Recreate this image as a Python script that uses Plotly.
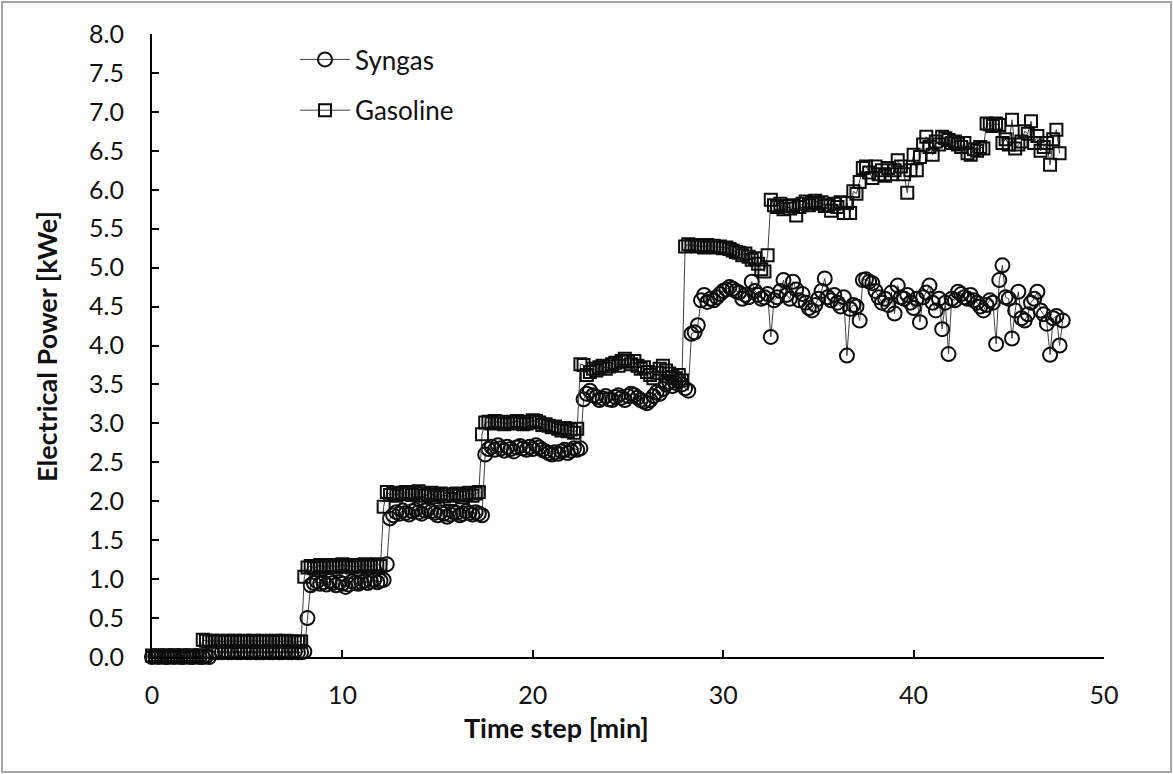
import plotly.graph_objects as go

# ---------------- data ----------------
# Samples every 10 s (1/6 min), starting at t = 0 min.
TIME_START_MIN = 0.0
TIME_STEP_MIN = 1.0 / 6.0

# Syngas electrical power [kWe], grouped by load step
syngas_idle = [0.0, 0.01, 0.0, 0.01, 0.0, 0.0, 0.01, 0.0, 0.01, 0.0,
               0.0, 0.01, 0.0, 0.0, 0.01, 0.0, 0.0, 0.01, 0.0]
syngas_step0 = [0.06, 0.07, 0.06, 0.06, 0.07, 0.06, 0.06, 0.07, 0.06, 0.06,
                0.07, 0.06, 0.06, 0.07, 0.06, 0.06, 0.06, 0.07, 0.06, 0.06,
                0.07, 0.06, 0.06, 0.07, 0.06, 0.06, 0.07, 0.06, 0.06, 0.07]
syngas_step1 = [0.5, 0.92, 0.95, 0.97, 0.94, 0.96, 0.93, 0.98, 0.95, 0.92,
                0.96, 0.94, 0.9, 0.93, 0.97, 0.95, 0.94, 0.96, 0.98, 0.95,
                0.97, 0.99, 0.96, 0.98, 0.99]
syngas_step2 = [1.19, 1.78, 1.82, 1.86, 1.84, 1.88, 1.85, 1.83, 1.87, 1.89,
                1.86, 1.84, 1.88, 1.9, 1.87, 1.85, 1.82, 1.86, 1.84, 1.8,
                1.83, 1.86, 1.85, 1.82, 1.84, 1.87, 1.85, 1.83, 1.86, 1.84,
                1.82]
syngas_step3 = [2.6, 2.67, 2.7, 2.66, 2.72, 2.68, 2.65, 2.7, 2.67, 2.64,
                2.69, 2.71, 2.68, 2.66, 2.7, 2.67, 2.72, 2.69, 2.66, 2.64,
                2.62, 2.6, 2.63, 2.61, 2.64, 2.66, 2.62, 2.65, 2.68, 2.66,
                2.68]
syngas_step4 = [3.31, 3.38, 3.42, 3.36, 3.34, 3.3, 3.32, 3.35, 3.31, 3.3,
                3.34, 3.36, 3.33, 3.3, 3.35, 3.38, 3.36, 3.33, 3.3, 3.28,
                3.26, 3.3, 3.35, 3.4, 3.38, 3.44, 3.5, 3.53, 3.48, 3.52,
                3.55, 3.5, 3.45, 3.42]
syngas_step5 = [4.15, 4.17, 4.26, 4.58, 4.65, 4.56, 4.6, 4.58, 4.62, 4.66,
                4.7, 4.72, 4.75, 4.73, 4.7, 4.68, 4.6, 4.65, 4.62, 4.82,
                4.7, 4.65, 4.6, 4.62, 4.66, 4.11, 4.58, 4.62, 4.7, 4.84,
                4.65, 4.6, 4.82, 4.72, 4.58, 4.66, 4.55, 4.48, 4.45, 4.52,
                4.6, 4.7, 4.86, 4.62, 4.58, 4.65, 4.55, 4.5, 4.62, 3.87,
                4.47, 4.52, 4.5, 4.32, 4.84, 4.85, 4.82, 4.8, 4.7, 4.62,
                4.55, 4.6, 4.52, 4.68, 4.41, 4.77, 4.62, 4.6, 4.65, 4.55,
                4.48, 4.6, 4.3, 4.62, 4.68, 4.77, 4.55, 4.45, 4.6, 4.21,
                4.55, 3.89, 4.6, 4.58, 4.69, 4.66, 4.62, 4.6, 4.65, 4.58,
                4.55, 4.5, 4.45, 4.52, 4.58, 4.55, 4.02, 4.84, 5.03, 4.62,
                4.6, 4.09, 4.45, 4.69, 4.35, 4.32, 4.4, 4.55, 4.6, 4.69,
                4.45, 4.4, 4.28, 3.88, 4.35, 4.38, 4.0, 4.32]

# Gasoline electrical power [kWe], grouped by load step
gasoline_idle = [0.02, 0.01, 0.02, 0.01, 0.02, 0.02, 0.01, 0.02, 0.01, 0.02,
                 0.02, 0.01, 0.02, 0.01, 0.02, 0.02]
gasoline_step0 = [0.22, 0.21, 0.2, 0.21, 0.2, 0.21, 0.2, 0.2, 0.21, 0.2,
                  0.21, 0.2, 0.2, 0.21, 0.2, 0.2, 0.21, 0.2, 0.2, 0.21,
                  0.2, 0.2, 0.2, 0.21, 0.2, 0.2, 0.21, 0.2, 0.2, 0.19,
                  0.2, 0.2]
gasoline_step1 = [1.03, 1.15, 1.17, 1.14, 1.16, 1.18, 1.15, 1.17, 1.16, 1.18,
                  1.15, 1.17, 1.19, 1.16, 1.18, 1.15, 1.17, 1.16, 1.18, 1.19,
                  1.17, 1.16, 1.18, 1.19, 1.17]
gasoline_step2 = [1.93, 2.12, 2.08, 2.1, 2.07, 2.11, 2.09, 2.12, 2.1, 2.08,
                  2.11, 2.13, 2.1, 2.07, 2.09, 2.11, 2.05, 2.08, 2.1, 2.06,
                  2.09, 2.03, 2.07, 2.1, 2.08, 2.05, 2.09, 2.11, 2.07, 2.1,
                  2.12]
gasoline_step3 = [2.86, 3.01, 3.02, 3.0, 3.03, 3.01, 3.02, 2.99, 3.01, 3.0,
                  3.02, 3.03, 3.01, 2.99, 3.0, 3.02, 3.04, 3.03, 3.01, 2.98,
                  2.99, 2.97, 2.95, 2.96, 2.93, 2.91, 2.94, 2.9, 2.92, 2.88,
                  2.93]
gasoline_step4 = [3.76, 3.75, 3.62, 3.66, 3.7, 3.68, 3.72, 3.74, 3.7, 3.73,
                  3.76, 3.78, 3.74, 3.8, 3.83, 3.79, 3.76, 3.8, 3.74, 3.7,
                  3.72, 3.66, 3.62, 3.58, 3.65, 3.7, 3.74, 3.68, 3.64, 3.6,
                  3.58, 3.62, 3.55]
gasoline_step5 = [5.27, 5.3, 5.28, 5.29, 5.27, 5.28, 5.26, 5.29, 5.27, 5.28,
                  5.26, 5.27, 5.25, 5.26, 5.24, 5.22, 5.2, 5.19, 5.16, 5.18,
                  5.14, 5.1, 5.12, 5.05, 4.98, 4.95, 5.16]
gasoline_step6 = [5.87, 5.8, 5.78, 5.82, 5.75, 5.79, 5.76, 5.8, 5.67, 5.78,
                  5.82, 5.85, 5.8, 5.83, 5.86, 5.82, 5.84, 5.79, 5.8, 5.73,
                  5.82, 5.78, 5.84, 5.7, 5.83]
gasoline_step7 = [5.7, 5.98, 5.95, 6.1, 6.28, 6.3, 6.22, 6.15, 6.3, 6.2,
                  6.25, 6.18, 6.28, 6.2, 6.25, 6.38, 6.3, 6.2, 5.96, 6.25,
                  6.45, 6.25, 6.42, 6.58, 6.68, 6.55, 6.45, 6.62, 6.58, 6.68,
                  6.66, 6.64, 6.6, 6.62, 6.58, 6.55, 6.6, 6.47, 6.45, 6.52,
                  6.5, 6.55, 6.53, 6.85, 6.84, 6.82, 6.85, 6.83, 6.6, 6.65,
                  6.58, 6.9, 6.53, 6.58, 6.62, 6.75, 6.72, 6.88, 6.6, 6.69,
                  6.5, 6.55, 6.6, 6.32, 6.65, 6.77, 6.47]

syngas = (syngas_idle + syngas_step0 + syngas_step1 + syngas_step2
          + syngas_step3 + syngas_step4 + syngas_step5)
gasoline = (gasoline_idle + gasoline_step0 + gasoline_step1 + gasoline_step2
            + gasoline_step3 + gasoline_step4 + gasoline_step5
            + gasoline_step6 + gasoline_step7)

series_names = ["Syngas", "Gasoline"]
x_ticks = [0, 10, 20, 30, 40, 50]
y_ticks = [0.0, 0.5, 1.0, 1.5, 2.0, 2.5, 3.0, 3.5, 4.0, 4.5,
           5.0, 5.5, 6.0, 6.5, 7.0, 7.5, 8.0]

# ---------------- figure ----------------
FONT = "Lato, 'Open Sans', sans-serif"
INK = "#111111"
TICK_SIZE = 25
LEGEND_SIZE = 26
TITLE_SIZE = 27

fig = go.Figure()
fig.add_trace(go.Scatter(
    x0=TIME_START_MIN, dx=TIME_STEP_MIN, y=syngas, name=series_names[0],
    mode="lines+markers", legendgroup="a",
    line=dict(color="#404040", width=1),
    marker=dict(symbol="circle-open", size=14, color="#0d0d0d",
                line=dict(width=2, color="#0d0d0d")),
    cliponaxis=False,
))
fig.add_trace(go.Scatter(
    x0=TIME_START_MIN, dx=TIME_STEP_MIN, y=gasoline, name=series_names[1],
    mode="lines+markers", legendgroup="b",
    line=dict(color="#404040", width=1),
    marker=dict(symbol="square-open", size=12, color="#0d0d0d",
                line=dict(width=2, color="#0d0d0d")),
    cliponaxis=False,
))

L, R, T, B = 152, 69, 34, 117
W, H = 1173, 774
pw, ph = W - L - R, H - T - B

fig.update_layout(
    width=W, height=H,
    margin=dict(l=L, r=R, t=T, b=B, pad=0),
    paper_bgcolor="white", plot_bgcolor="white",
    font=dict(family=FONT, size=TICK_SIZE, color=INK),
    showlegend=True,
    legend=dict(x=(295 - L) / pw, y=(H - B - 36) / ph, xanchor="left",
                yanchor="top", bgcolor="rgba(0,0,0,0)",
                font=dict(size=LEGEND_SIZE, family=FONT, color=INK),
                traceorder="grouped", tracegroupgap=14,
                itemwidth=50),
    xaxis=dict(range=[0, 50], tickvals=x_ticks, ticks="inside", ticklen=7,
               tickwidth=2, tickcolor="black", showline=True, linewidth=2,
               linecolor="black", showgrid=False, zeroline=False,
               tickfont=dict(size=TICK_SIZE, family=FONT, color=INK),
               ticklabelstandoff=15),
    yaxis=dict(range=[0, 8], tickvals=y_ticks, tickformat=".1f",
               ticks="inside", ticklen=7, tickwidth=2, tickcolor="black",
               showline=True, linewidth=2, linecolor="black",
               showgrid=False, zeroline=False,
               tickfont=dict(size=TICK_SIZE, family=FONT, color=INK),
               ticklabelstandoff=21),
    annotations=[
        dict(text="<b>Electrical Power [kWe]</b>", xref="paper",
             yref="paper", x=(47 - L) / pw, y=(H - B - 347) / ph,
             textangle=-90, showarrow=False, xanchor="center",
             yanchor="middle",
             font=dict(size=TITLE_SIZE, family=FONT, color=INK)),
        dict(text="<b>Time step [min]</b>", xref="paper", yref="paper",
             x=(556 - L) / pw, y=(H - B - 727) / ph, showarrow=False,
             xanchor="center", yanchor="middle",
             font=dict(size=TITLE_SIZE, family=FONT, color=INK)),
    ],
    shapes=[dict(type="rect", xref="paper", yref="paper",
                 x0=(2 - L) / pw, x1=(W - 2 - L) / pw,
                 y0=(H - B - (H - 2)) / ph, y1=(H - B - 2) / ph,
                 line=dict(color="#a6a6a6", width=2), layer="below")],
)

fig.write_html("out.html")
